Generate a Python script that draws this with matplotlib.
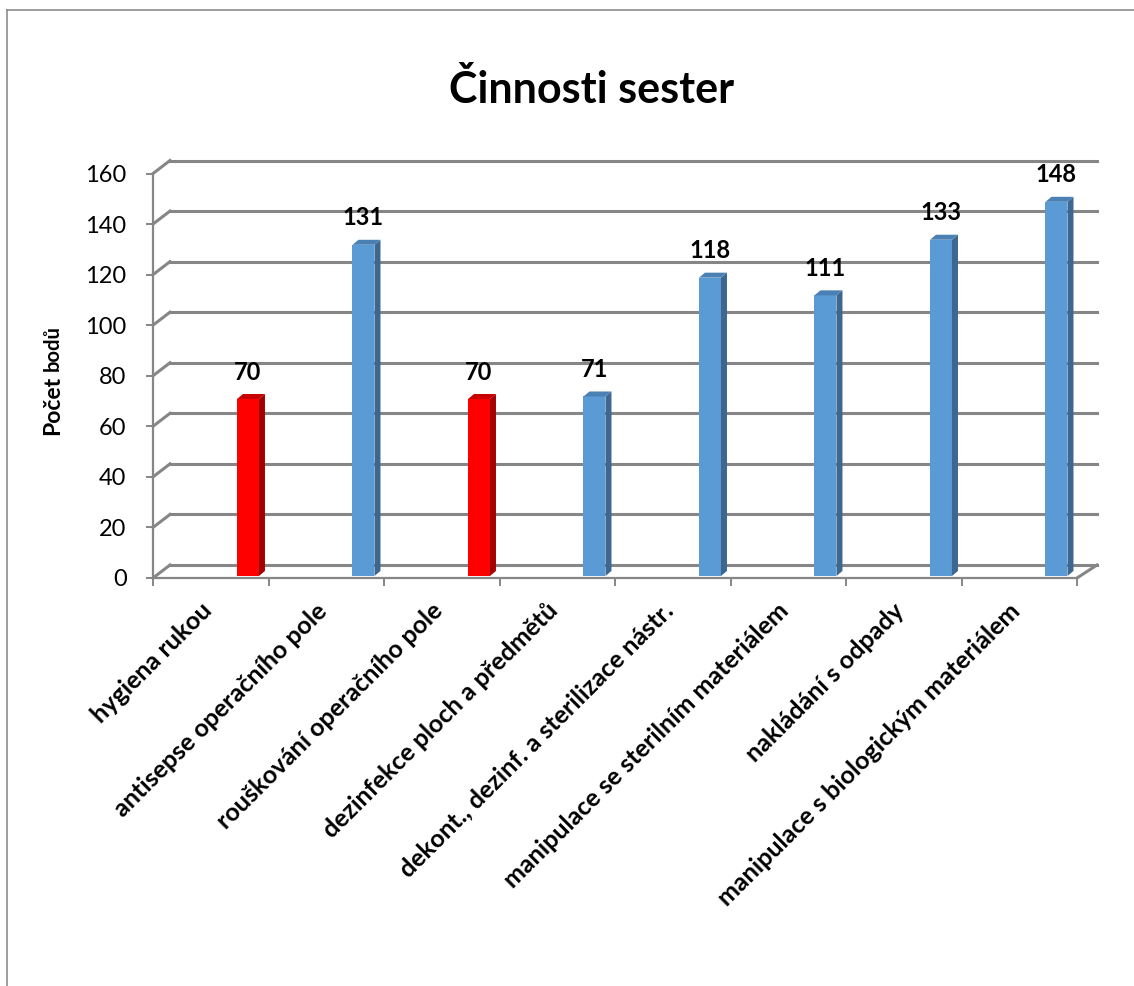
import matplotlib.pyplot as plt
from matplotlib.patches import Polygon
from matplotlib.lines import Line2D

categories = ['hygiena rukou', 'antisepse operačního pole', 'rouškování operačního pole',
              'dezinfekce ploch a předmětů', 'dekont., dezinf. a sterilizace nástr.',
              'manipulace se sterilním materiálem', 'nakládání s odpady',
              'manipulace s biologickým materiálem']
values = [70, 131, 70, 71, 118, 111, 133, 148]
highlight = [True, False, True, False, False, False, False, False]
yticks = [0, 20, 40, 60, 80, 100, 120, 140, 160]

plt.rcParams['font.family'] = ['Lato', 'DejaVu Sans']

W, H = 1134, 986
fig = plt.figure(figsize=(W / 100, H / 100), dpi=100)
x0, x1, y0, y1 = 153, 1077, 578, 173.5
ax = fig.add_axes([x0 / W, (H - y0) / H, (x1 - x0) / W, (y0 - y1) / H])
ax.set_xlim(0, 8)
ax.set_ylim(0, 160)
px = (x1 - x0) / 8          # pixels per category
py = (y0 - y1) / 160        # pixels per unit

grid = '#868686'
# back wall offset
bdx, bdy = 17 / px, 13 / py
right_back = (1097 - x0) / px
for v in yticks:
    ax.add_line(Line2D([bdx, right_back], [v + bdy, v + bdy], color=grid, lw=2.2, clip_on=False, zorder=1))
    ax.add_line(Line2D([0, bdx], [v, v + bdy], color=grid, lw=2.2, clip_on=False, zorder=1))
# floor right edge
ax.add_line(Line2D([8, right_back], [0, bdy], color=grid, lw=2.2, clip_on=False, zorder=1))

for s in ['top', 'right']:
    ax.spines[s].set_visible(False)
for s in ['left', 'bottom']:
    ax.spines[s].set_color(grid)
    ax.spines[s].set_linewidth(1.6)

ax.set_yticks(yticks)
ax.tick_params(axis='y', length=5, width=1.4, color=grid, pad=14, labelsize=17)
ax.set_xticks(range(9))
ax.set_xticklabels([])
ax.tick_params(axis='x', length=6, width=1.4, color=grid)

# bars as pseudo-3d columns
fw = 22 / px
sdx, sdy = 6 / px, 5 / py
base = 0.8
for i, (v, hl) in enumerate(zip(values, highlight)):
    front, side, top = ('#ff0000', '#a50000', '#c80000') if hl else ('#5b9bd5', '#3b6791', '#4a80b4')
    l = i + 0.727
    r = l + fw
    ax.add_patch(Polygon([[l, base], [r, base], [r, v + base], [l, v + base]], closed=True,
                         facecolor=front, edgecolor='none', zorder=3))
    ax.add_patch(Polygon([[r, base], [r + sdx, base + sdy], [r + sdx, v + base + sdy], [r, v + base]],
                         closed=True, facecolor=side, edgecolor='none', zorder=3))
    ax.add_patch(Polygon([[l, v + base], [r, v + base], [r + sdx, v + base + sdy], [l + sdx, v + base + sdy]],
                         closed=True, facecolor=top, edgecolor='none', zorder=3))
    ax.text((l + r) / 2, v + base + 27 / py, str(v), ha='center', va='center',
            fontsize=17, fontweight='bold', zorder=4)

# category labels
for i, c in enumerate(categories):
    ax.text(i + 0.5 - 3 / px, -29 / py, c, rotation=45, rotation_mode='anchor',
            ha='right', va='center', fontsize=18, fontweight='bold', clip_on=False)

fig.text(592 / W, 1 - 103 / H, 'Činnosti sester', ha='center', va='baseline',
         fontsize=31, fontweight='bold')
fig.text(59 / W, 1 - 405 / H, 'Počet', rotation=90, rotation_mode='anchor',
         ha='center', va='baseline', fontsize=16.5, fontweight='bold')
fig.text(59 / W, 1 - 348 / H, 'bodů', rotation=90, rotation_mode='anchor',
         ha='center', va='baseline', fontsize=14.5, fontweight='bold')

# outer frame
fig.add_artist(Line2D([7 / W, 1], [1 - 10 / H, 1 - 10 / H], color='#8c8c8c', lw=1.2))
fig.add_artist(Line2D([7 / W, 7 / W], [0, 1 - 10 / H], color='#8c8c8c', lw=1.2))

fig.savefig('out.png', dpi=100)
